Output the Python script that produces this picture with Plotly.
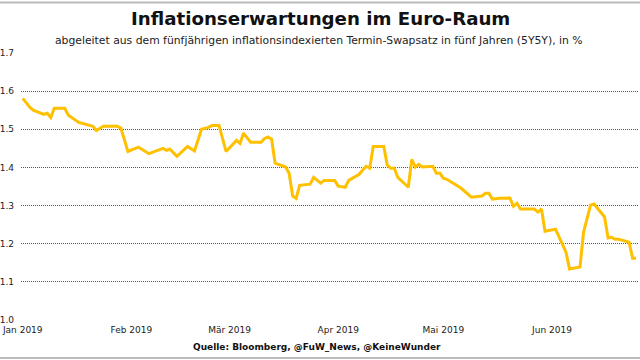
import plotly.graph_objects as go

dates = [
    "2019-01-01", "2019-01-03", "2019-01-04", "2019-01-07", "2019-01-08", "2019-01-09",
    "2019-01-10", "2019-01-13", "2019-01-14", "2019-01-17", "2019-01-21", "2019-01-22",
    "2019-01-24", "2019-01-28", "2019-01-29", "2019-01-31", "2019-02-03", "2019-02-06",
    "2019-02-10", "2019-02-11", "2019-02-12", "2019-02-14", "2019-02-17", "2019-02-19",
    "2019-02-21", "2019-02-23", "2019-02-24", "2019-02-26", "2019-02-28", "2019-03-03",
    "2019-03-04", "2019-03-05", "2019-03-07", "2019-03-10", "2019-03-11", "2019-03-12",
    "2019-03-13", "2019-03-14", "2019-03-17", "2019-03-18", "2019-03-19", "2019-03-20",
    "2019-03-21", "2019-03-24", "2019-03-25", "2019-03-27", "2019-03-28", "2019-03-31",
    "2019-04-01", "2019-04-03", "2019-04-04", "2019-04-07", "2019-04-08", "2019-04-09",
    "2019-04-10", "2019-04-11", "2019-04-14", "2019-04-15", "2019-04-16", "2019-04-17",
    "2019-04-18", "2019-04-21", "2019-04-22", "2019-04-23", "2019-04-24", "2019-04-25",
    "2019-04-28", "2019-04-29", "2019-04-30", "2019-05-01", "2019-05-02", "2019-05-06",
    "2019-05-09", "2019-05-12", "2019-05-13", "2019-05-14", "2019-05-15", "2019-05-17",
    "2019-05-20", "2019-05-21", "2019-05-22", "2019-05-23", "2019-05-27", "2019-05-28",
    "2019-05-29", "2019-05-30", "2019-06-02", "2019-06-05", "2019-06-06", "2019-06-09",
    "2019-06-10", "2019-06-11", "2019-06-12", "2019-06-13", "2019-06-16", "2019-06-17",
    "2019-06-18", "2019-06-19", "2019-06-20", "2019-06-23", "2019-06-24", "2019-06-25",
]

values = [
    1.581, 1.558, 1.550, 1.539, 1.542, 1.531,
    1.555, 1.555, 1.537, 1.518, 1.508, 1.497,
    1.508, 1.508, 1.503, 1.442, 1.453, 1.436,
    1.450, 1.445, 1.448, 1.429, 1.455, 1.443,
    1.500, 1.505, 1.510, 1.510, 1.442, 1.471,
    1.463, 1.490, 1.466, 1.466, 1.476, 1.480,
    1.474, 1.411, 1.401, 1.385, 1.325, 1.319,
    1.353, 1.356, 1.374, 1.359, 1.366, 1.366,
    1.351, 1.348, 1.366, 1.382, 1.393, 1.403,
    1.398, 1.455, 1.455, 1.406, 1.398, 1.398,
    1.374, 1.348, 1.421, 1.401, 1.408, 1.401,
    1.403, 1.385, 1.385, 1.372, 1.369, 1.346,
    1.322, 1.325, 1.332, 1.332, 1.317, 1.319,
    1.320, 1.298, 1.306, 1.291, 1.291, 1.283,
    1.291, 1.233, 1.238, 1.178, 1.134, 1.139,
    1.230, 1.264, 1.301, 1.304, 1.270, 1.215,
    1.217, 1.212, 1.212, 1.204, 1.162, 1.162,
]

x_tick_vals = ["2019-01-01", "2019-02-01", "2019-03-01", "2019-04-01", "2019-05-01", "2019-06-01"]
x_tick_text = ["Jan 2019", "Feb 2019", "Mär 2019", "Apr 2019", "Mai 2019", "Jun 2019"]
y_tick_vals = [1.0, 1.1, 1.2, 1.3, 1.4, 1.5, 1.6, 1.7]
y_tick_text = ["1.0", "1.1", "1.2", "1.3", "1.4", "1.5", "1.6", "1.7"]

title = "Inflationserwartungen im Euro-Raum"
subtitle = "abgeleitet aus dem fünfjährigen inflationsindexierten Termin-Swapsatz in fünf Jahren (5Y5Y), in %"
source = "Quelle: Bloomberg, @FuW_News, @KeineWunder"

FONT = "DejaVu Sans"
L, R, T, B = 21, 2, 52.6, 40
W, H = 640, 360
pw, ph = W - L - R, H - T - B

fig = go.Figure()
fig.add_trace(go.Scatter(
    x=dates, y=values, mode="lines",
    line=dict(color="#FFC000", width=3),
    hoverinfo="skip",
))

def px_x(px):
    return (px - L) / pw

def px_y(py):
    return (H - B - py) / ph

fig.update_layout(
    width=W, height=H,
    margin=dict(l=L, r=R, t=T, b=B, autoexpand=False),
    paper_bgcolor="white", plot_bgcolor="white",
    showlegend=False,
    hovermode=False,
    font=dict(family=FONT, size=10, color="#222"),
    xaxis=dict(
        range=["2018-12-31 12:00", "2019-06-25 13:00"],
        tickvals=x_tick_vals, ticktext=x_tick_text,
        showgrid=False, zeroline=False, showline=False, ticks="",
        tickfont=dict(family=FONT, size=9, color="#222"),
        ticklabelstandoff=3, automargin=False,
    ),
    yaxis=dict(
        range=[1.0, 1.7],
        tickvals=y_tick_vals, ticktext=y_tick_text,
        showgrid=True, gridcolor="#555", gridwidth=1, griddash="1px,1px",
        zeroline=False, showline=False, ticks="",
        tickfont=dict(family=FONT, size=9, color="#222"),
        ticklabelstandoff=6, automargin=False,
    ),
    annotations=[
        dict(text="<b>" + title + "</b>", x=px_x(320), xref="paper", y=px_y(18), yref="paper",
             xanchor="center", yanchor="middle", showarrow=False,
             font=dict(family=FONT, size=18.2, color="#111")),
        dict(text=subtitle, x=px_x(319), xref="paper", y=px_y(40), yref="paper",
             xanchor="center", yanchor="middle", showarrow=False,
             font=dict(family=FONT, size=10.8, color="#222")),
        dict(text="<b>" + source + "</b>", x=px_x(317), xref="paper", y=px_y(347), yref="paper",
             xanchor="center", yanchor="middle", showarrow=False,
             font=dict(family=FONT, size=9, color="#111")),
    ],
    shapes=[
        dict(type="line", xref="paper", yref="paper", x0=px_x(0), x1=px_x(640),
             y0=px_y(2), y1=px_y(2), line=dict(color="#bbbbbb", width=2)),
        dict(type="line", xref="paper", yref="paper", x0=px_x(0), x1=px_x(640),
             y0=px_y(358), y1=px_y(358), line=dict(color="#bbbbbb", width=2)),
    ],
)

fig.write_html(
    "out.html",
    config={"displayModeBar": False, "staticPlot": True},
    post_script="document.body.style.margin='0';document.body.style.overflow='hidden';",
)
